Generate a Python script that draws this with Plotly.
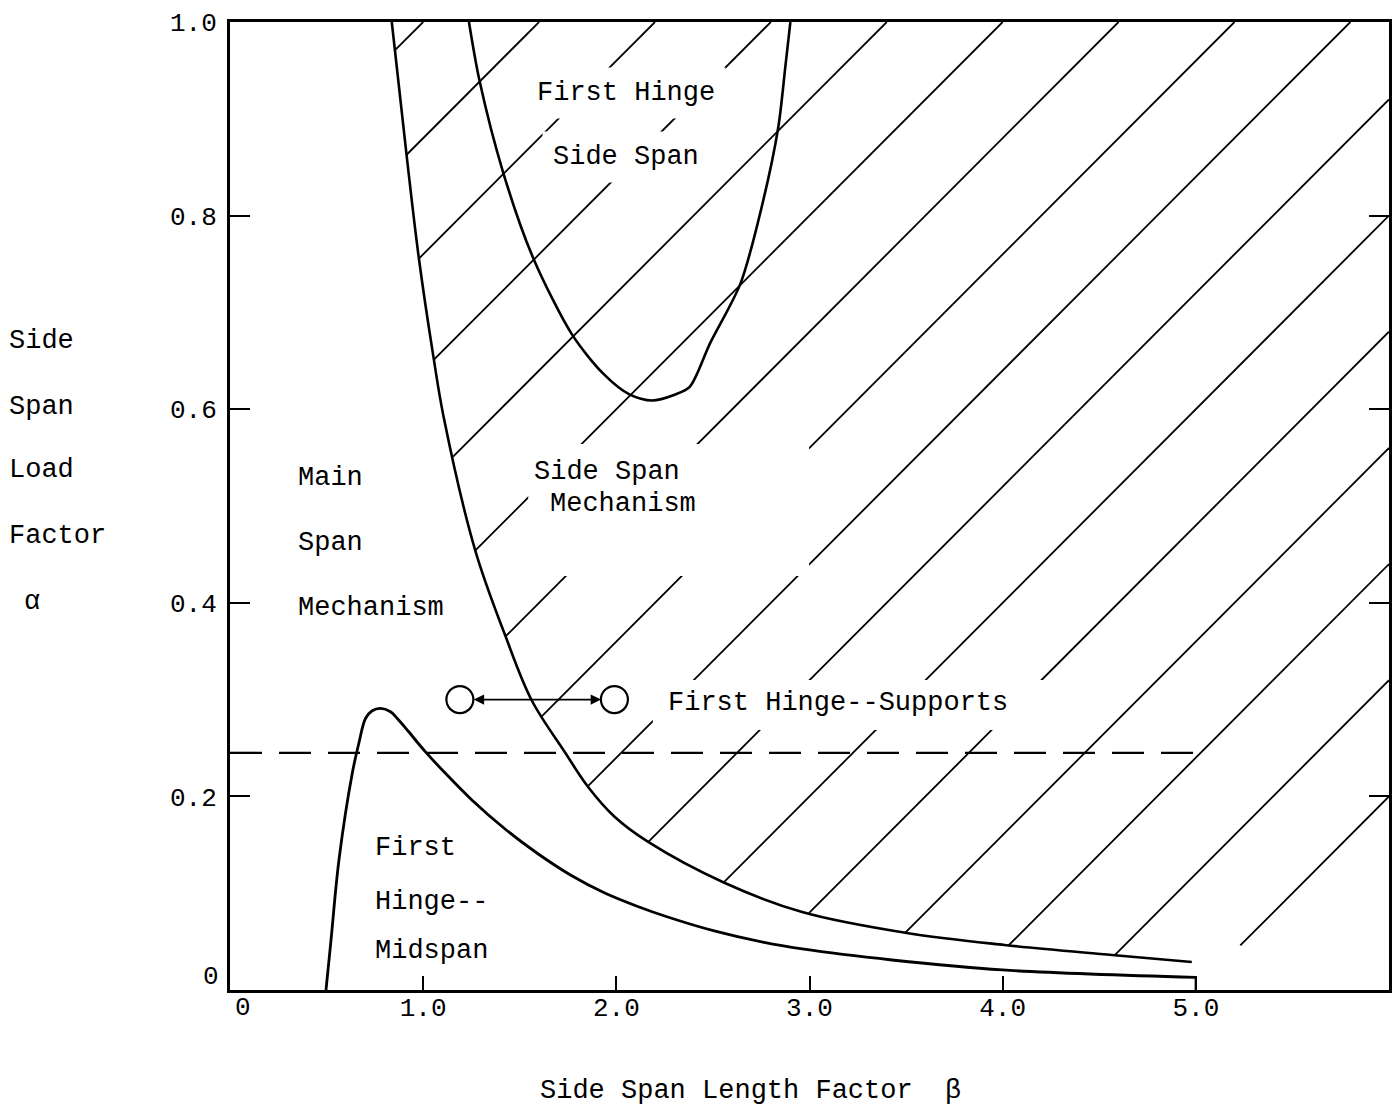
import numpy as np
import plotly.graph_objects as go

# ---------------- data ----------------
# boundary between main-span mechanism and side-span mechanism
MAIN_BETA = [0.8375, 0.915, 0.977, 1.054, 1.106, 1.269, 1.424, 1.561, 1.733, 1.853,
             1.991, 2.163, 2.559, 2.962, 3.504, 4.009, 4.566, 4.979]
MAIN_ALPHA = [1.0, 0.861, 0.757, 0.653, 0.592, 0.4545, 0.3667, 0.2996, 0.2459, 0.2100,
              0.1790, 0.1532, 0.1108, 0.0806, 0.0589, 0.0465, 0.0362, 0.0289]

# "First Hinge Side Span" U-shaped boundary
U_BETA = [1.237, 1.291, 1.415, 1.570, 1.771, 1.931, 2.070, 2.184, 2.302, 2.380,
          2.485, 2.643, 2.761, 2.839, 2.875, 2.901]
U_ALPHA = [1.0, 0.940, 0.844, 0.756, 0.677, 0.637, 0.615, 0.609, 0.615, 0.623,
           0.668, 0.730, 0.816, 0.892, 0.954, 1.0]

# "First Hinge -- Midspan" boundary
LOW_BETA = [0.497, 0.523, 0.564, 0.633, 0.667, 0.702, 0.736, 0.779, 0.831, 0.865,
            0.925, 1.011, 1.115, 1.252, 1.424, 1.596, 1.767, 1.940, 2.111, 2.266,
            2.507, 2.765, 2.962, 3.427, 3.999, 5.000, 5.000]
LOW_ALPHA = [0.0, 0.0517, 0.1343, 0.2239, 0.2549, 0.2807, 0.2885, 0.2910, 0.2875, 0.2807,
             0.2668, 0.2462, 0.2239, 0.1963, 0.1663, 0.1405, 0.1183, 0.1002, 0.0863, 0.0754,
             0.0610, 0.0491, 0.0424, 0.0310, 0.0207, 0.0131, 0.0]

# dashed reference level
DASH_BETA = [0.0, 5.04]
DASH_ALPHA = [0.245, 0.245]

# "First Hinge -- Supports" marker circles
CIRCLE_BETA = [1.19, 1.99]
CIRCLE_ALPHA = [0.30, 0.30]

X_TICKS = [1, 2, 3, 4, 5]
X_TICK_TEXT = ["1.0", "2.0", "3.0", "4.0", "5.0"]
Y_TICKS = [0.2, 0.4, 0.6, 0.8, 1.0]
Y_TICK_TEXT = ["0.2", "0.4", "0.6", "0.8", "1.0"]

# hatching (style): lines alpha = slope*(beta - b0 - step*n)
HATCH_SLOPE = 0.2
HATCH_B0 = -4.0
HATCH_STEP = 0.6
HATCH_N = 16
HATCH_FLOOR = 0.046

FONT = "Liberation Mono, Courier New, monospace"
INK = "black"

# ---------------- hatch line geometry ----------------
bb = np.linspace(MAIN_BETA[0], 6.0, 8001)
bound = np.where(bb <= MAIN_BETA[-1], np.interp(bb, MAIN_BETA, MAIN_ALPHA), HATCH_FLOOR)
hx, hy = [], []
for n in range(HATCH_N):
    b0 = HATCH_B0 + HATCH_STEP * n
    line = HATCH_SLOPE * (bb - b0)
    idx = np.nonzero(line >= bound)[0]
    if len(idx) == 0:
        continue
    x_lo = float(bb[idx[0]])
    x_hi = min(b0 + 1.0 / HATCH_SLOPE, 6.0)
    if x_lo >= x_hi:
        continue
    hx += [x_lo, x_hi, None]
    hy += [HATCH_SLOPE * (x_lo - b0), HATCH_SLOPE * (x_hi - b0), None]

fig = go.Figure()

fig.add_trace(go.Scatter(x=hx, y=hy, mode="lines",
                         line=dict(color=INK, width=1.8), hoverinfo="skip"))

fig.add_trace(go.Scatter(x=MAIN_BETA, y=MAIN_ALPHA, mode="lines",
                         line=dict(color=INK, width=2.6, shape="spline", smoothing=1.0)))
fig.add_trace(go.Scatter(x=U_BETA, y=U_ALPHA, mode="lines",
                         line=dict(color=INK, width=2.6, shape="spline", smoothing=0.8)))
fig.add_trace(go.Scatter(x=LOW_BETA[:-1], y=LOW_ALPHA[:-1], mode="lines",
                         line=dict(color=INK, width=2.8, shape="spline", smoothing=1.0)))
fig.add_trace(go.Scatter(x=LOW_BETA[-2:], y=LOW_ALPHA[-2:], mode="lines",
                         line=dict(color=INK, width=2.4)))
fig.add_trace(go.Scatter(x=DASH_BETA, y=DASH_ALPHA, mode="lines",
                         line=dict(color=INK, width=2.3, dash="32px,17px")))
fig.add_trace(go.Scatter(x=CIRCLE_BETA, y=CIRCLE_ALPHA, mode="markers",
                         marker=dict(symbol="circle-open", size=27, color=INK,
                                     line=dict(width=2.2, color=INK))))

# blank areas left in the hatching around lettering
for x0, x1, y0, y1 in [(1.544, 2.998, 0.4277, 0.564), (2.189, 4.226, 0.2686, 0.3202)]:
    fig.add_shape(type="rect", xref="x", yref="y", x0=x0, x1=x1, y0=y0, y1=y1,
                  fillcolor="white", line=dict(width=0), layer="above")

ann = []


def label(text, x, y, xanchor="center", ref="x", bg=None, pad=1, size=27):
    d = dict(text=text, x=x, y=y, xref=ref, yref=("y" if ref == "x" else "paper"),
             xanchor=xanchor, yanchor="middle", showarrow=False,
             font=dict(family=FONT, size=size, color=INK), borderpad=pad)
    if bg:
        d["bgcolor"] = bg
    ann.append(d)


label("First Hinge", 2.05, 0.927, bg="white", pad=10)
label("Side Span", 2.05, 0.861, bg="white", pad=10)
label("Side Span", 1.954, 0.5355)
label("Mechanism", 2.037, 0.502)
label("Main", 0.343, 0.529, xanchor="left")
label("Span", 0.343, 0.4618, xanchor="left")
label("Mechanism", 0.343, 0.3946, xanchor="left")
label("First Hinge--Supports", 2.255, 0.2965, xanchor="left")
label("First", 0.742, 0.1467, xanchor="left")
label("Hinge--", 0.742, 0.0909, xanchor="left")
label("Midspan", 0.742, 0.0400, xanchor="left")

# axis titles and zero labels (paper coordinates)
label("Side", -0.1920, 0.6708, xanchor="left", ref="paper")
label("Span", -0.1920, 0.6026, xanchor="left", ref="paper")
label("Load", -0.1920, 0.5372, xanchor="left", ref="paper")
label("Factor", -0.1920, 0.4690, xanchor="left", ref="paper")
label("α", -0.1710, 0.4011, ref="paper")
label("Side Span Length Factor  β", 0.4488, -0.1043, ref="paper")
label("0", -0.0164, 0.0134, ref="paper", size=26)
label("0", 0.0112, -0.0186, ref="paper", size=26)

ann.append(dict(x=1.921, y=0.30, ax=1.254, ay=0.30, xref="x", yref="y",
                axref="x", ayref="y", text="", showarrow=True,
                arrowhead=2, startarrowhead=2, arrowside="end+start",
                arrowsize=1.3, startarrowsize=1.3, arrowwidth=1.6,
                arrowcolor=INK, standoff=0, startstandoff=0))

fig.update_layout(
    width=1394, height=1109,
    margin=dict(l=230, r=2, t=22, b=119),
    paper_bgcolor="white", plot_bgcolor="white",
    showlegend=False,
    annotations=ann,
    font=dict(family=FONT, color=INK),
    xaxis=dict(range=[0, 6], showline=True, linewidth=3, linecolor=INK, mirror=True,
               ticks="inside", ticklen=14, tickwidth=2, tickcolor=INK,
               tickvals=X_TICKS, ticktext=X_TICK_TEXT, showgrid=False, zeroline=False,
               ticklabelstandoff=-8,
               tickfont=dict(family=FONT, size=26, color=INK)),
    yaxis=dict(range=[0, 1], showline=True, linewidth=3, linecolor=INK, mirror="ticks",
               ticks="inside", ticklen=20, tickwidth=2, tickcolor=INK,
               tickvals=Y_TICKS, ticktext=Y_TICK_TEXT, showgrid=False, zeroline=False,
               ticklabelstandoff=5,
               tickfont=dict(family=FONT, size=26, color=INK)),
)

fig.write_html("out.html")
